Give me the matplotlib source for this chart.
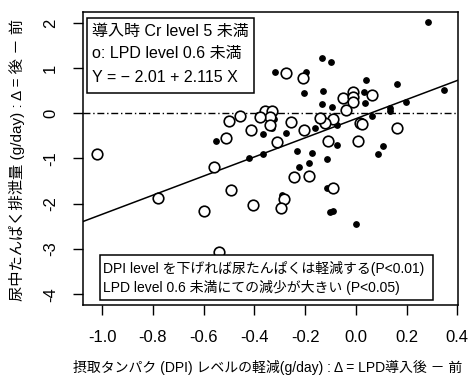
import matplotlib
matplotlib.use("Agg")
import matplotlib.pyplot as plt
from matplotlib.patches import Rectangle

plt.rcParams['font.family'] = ['Liberation Sans', 'Noto Sans CJK JP']
plt.rcParams['axes.unicode_minus'] = False

# open circles: LPD level < 0.6
open_x = [-1.02, -0.78, -0.60, -0.54, -0.56, -0.49, -0.405, -0.283, -0.293,
          -0.243, -0.184, -0.309, -0.51, -0.109, 0.007, -0.09, -0.05, -0.01,
          -0.01, -0.01, 0.062, -0.037, -0.09, -0.122, 0.016, 0.026, 0.164,
          -0.276, -0.21, -0.356, -0.329, -0.339, -0.50, -0.455, -0.339,
          -0.415, -0.254, -0.204, -0.142, -0.379]
open_y = [-0.90, -1.88, -2.16, -3.07, -1.18, -1.70, -2.03, -1.90, -2.09,
          -1.40, -1.38, -0.63, -0.54, -0.62, -0.62, -1.65, 0.33, 0.48,
          0.37, 0.26, 0.41, 0.07, -0.13, -0.22, -0.21, -0.23, -0.32,
          0.88, 0.77, 0.04, 0.04, -0.09, -0.18, -0.05, -0.27,
          -0.38, -0.20, -0.37, -0.11, -0.09]

# filled dots: the rest
fill_x = [0.283, -0.135, -0.096, 0.042, 0.164, 0.347, -0.129, 0.033, 0.035,
          -0.135, -0.092, 0.134, 0.134, 0.197, 0.062, -0.076, -0.138, 0.108,
          -0.317, -0.195, -0.205, -0.385, -0.322, -0.552, -0.366, -0.276,
          -0.162, -0.421, -0.366, -0.232, -0.172, -0.224, -0.184, -0.112,
          -0.29, -0.113, -0.103, -0.09, 0.0, -0.076, 0.088, -0.329, -0.253]
fill_y = [2.01, 1.23, 1.13, 0.74, 0.64, 0.52, 0.49, 0.48, 0.22,
          0.21, 0.13, 0.11, 0.04, 0.26, -0.07, -0.26, -0.17, -0.73,
          0.91, 0.92, 0.44, -0.04, -0.13, -0.61, -0.46, -0.43,
          -0.33, -0.98, -0.91, -0.83, -0.88, -1.18, -1.09, -1.02,
          -1.81, -1.66, -2.19, -2.17, -2.44, -0.70, -0.91, -0.33, -0.17]

# regression line as drawn
intercept = -0.12
slope = 2.115

x_ticks = [-1.0, -0.8, -0.6, -0.4, -0.2, 0.0, 0.2, 0.4]
y_ticks = [-4, -3, -2, -1, 0, 1, 2]

legend_top = ["導入時 Cr level 5 未満", "o: LPD level 0.6 未満",
              "Y = − 2.01 + 2.115 X"]
legend_bottom = ["DPI level を下げれば尿たんぱくは軽減する(P<0.01)",
                 "LPD level 0.6 未満にての減少が大きい (P<0.05)"]

fig = plt.figure(figsize=(4.73, 3.82), dpi=100)
ax = fig.add_axes([0.1755, 0.2016, 0.7925, 0.767])

ax.scatter(fill_x, fill_y, s=15, c="black", zorder=3)
ax.scatter(open_x, open_y, s=58, facecolors="white", edgecolors="black",
           linewidths=1.2, zorder=3)
ax.axline((0, intercept), slope=slope, color="black", lw=1.1, zorder=2)
ax.axhline(0, color="black", lw=1.0, ls=(0, (5, 2, 1, 2)), zorder=1)

ax.set_xlim(-1.075, 0.402)
ax.set_ylim(-4.24, 2.24)
ax.set_xticks(x_ticks)
ax.set_xticklabels(["%.1f" % v for v in x_ticks])
ax.set_yticks(y_ticks)
ax.set_yticklabels([str(v) for v in y_ticks], rotation=90, va="center")
ax.tick_params(axis="x", length=7, width=1, pad=11, labelsize=12)
ax.tick_params(axis="y", length=7, width=1, pad=11, labelsize=12)
for sp in ax.spines.values():
    sp.set_linewidth(1.1)

ax.add_patch(Rectangle((0.011, 0.7235), 0.445, 0.2565, transform=ax.transAxes,
                       facecolor="white", edgecolor="black", lw=1.1, zorder=4))
for t, yy in zip(legend_top, [0.932, 0.857, 0.778]):
    ax.text(0.024, yy, t, transform=ax.transAxes, fontsize=11.5,
            va="center", ha="left", zorder=5)

ax.add_patch(Rectangle((0.0453, 0.0171), 0.888, 0.1535, transform=ax.transAxes,
                       facecolor="white", edgecolor="black", lw=1.1, zorder=4))
for t, yy in zip(legend_bottom, [0.1263, 0.0614]):
    ax.text(0.054, yy, t, transform=ax.transAxes, fontsize=10,
            va="center", ha="left", zorder=5)

fig.text(0.155, 0.018, "摂取タンパク (DPI) レベルの軽減(g/day) : Δ = LPD導入後 － 前",
         fontsize=10, ha="left", va="bottom")
fig.text(0.036, 0.58, "尿中たんぱく排泄量 (g/day) : Δ = 後 － 前",
         fontsize=11, rotation=90, ha="center", va="center")

fig.savefig("out.png", dpi=100)
